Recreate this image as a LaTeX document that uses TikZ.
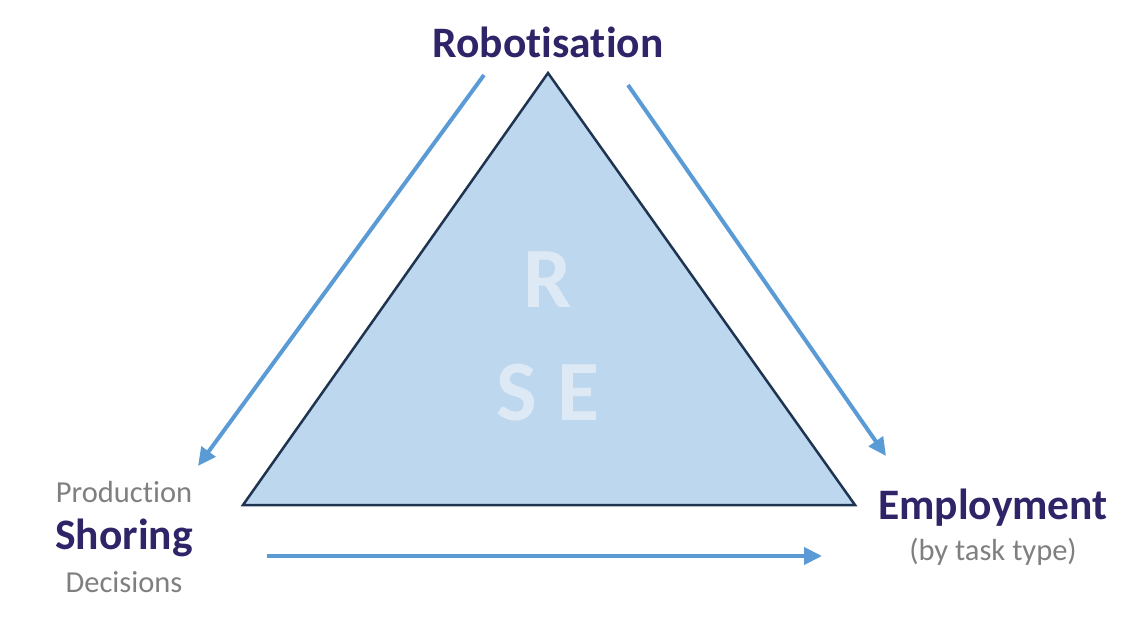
\documentclass[tikz,border=0pt]{standalone}
\usepackage{fontspec}
\setmainfont[Ligatures=NoCommon]{Carlito}
\usepackage{tikz}
\usetikzlibrary{arrows.meta}
\usetikzlibrary{positioning}

\definecolor{navy}{HTML}{1F3450}
\definecolor{trifill}{HTML}{BDD7EE}
\definecolor{arrowblue}{HTML}{5B9BD5}
\definecolor{darkpurple}{HTML}{2E2467}
\definecolor{softgray}{HTML}{7F7F7F}
\definecolor{ghost}{HTML}{DDEAF6}

\begin{document}
\begin{tikzpicture}
		[
		x=1pt, y=-1pt,
		font=\fontsize{24}{28}\selectfont
		]
		
		% Styles: corner titles, subtitles and the flow arrows
		\tikzstyle{title}=[font=\fontsize{43.5}{48}\selectfont\bfseries, text=darkpurple, inner sep=0];
		\tikzstyle{sub}=[font=\fontsize{30.5}{34}\selectfont, text=softgray, inner sep=0];
		\tikzstyle{letter}=[font=\fontsize{86}{90}\selectfont\bfseries, text=ghost, inner sep=0];
		\tikzstyle{flow}=[draw=arrowblue, line width=4pt, -{Triangle[length=18pt,width=17pt]}];
		
		\useasboundingbox (0,0) rectangle (1135,620);
		
		% The triangle
		\coordinate (top) at (548,73);
		\coordinate (left) at (243,505);
		\coordinate (right) at (855,505);
		\draw[fill=trifill, draw=navy, line width=2.5pt, line join=miter](top)--(left)--(right)--cycle;
		\node[letter] (r) at (548,280) {R};
		\node[letter] (se) at (548,393) {S E};
		
		% Corner labels
		\node[title] (robot) at (548,42) {Robotisation};
		\node[title] (shoring) at (124,538) {Shoring};
		\node[sub] (production) at (124,492) {Production};
		\node[sub] (decisions) at (124,582) {Decisions};
		\node[title] (employment) at (993,508) {Employment};
		\node[sub] (task) at (993,552) {(by task type)};
		
		% Arrows
		\coordinate (a1) at (484,75);
		\coordinate (b1) at (198,466);
		\coordinate (a2) at (628,85);
		\coordinate (b2) at (886,456);
		\coordinate (a3) at (267,556);
		\coordinate (b3) at (822,556);
		\foreach\x in {1,2,3}\draw[flow](a\x)to(b\x);
		
		\end{tikzpicture}
\end{document}
